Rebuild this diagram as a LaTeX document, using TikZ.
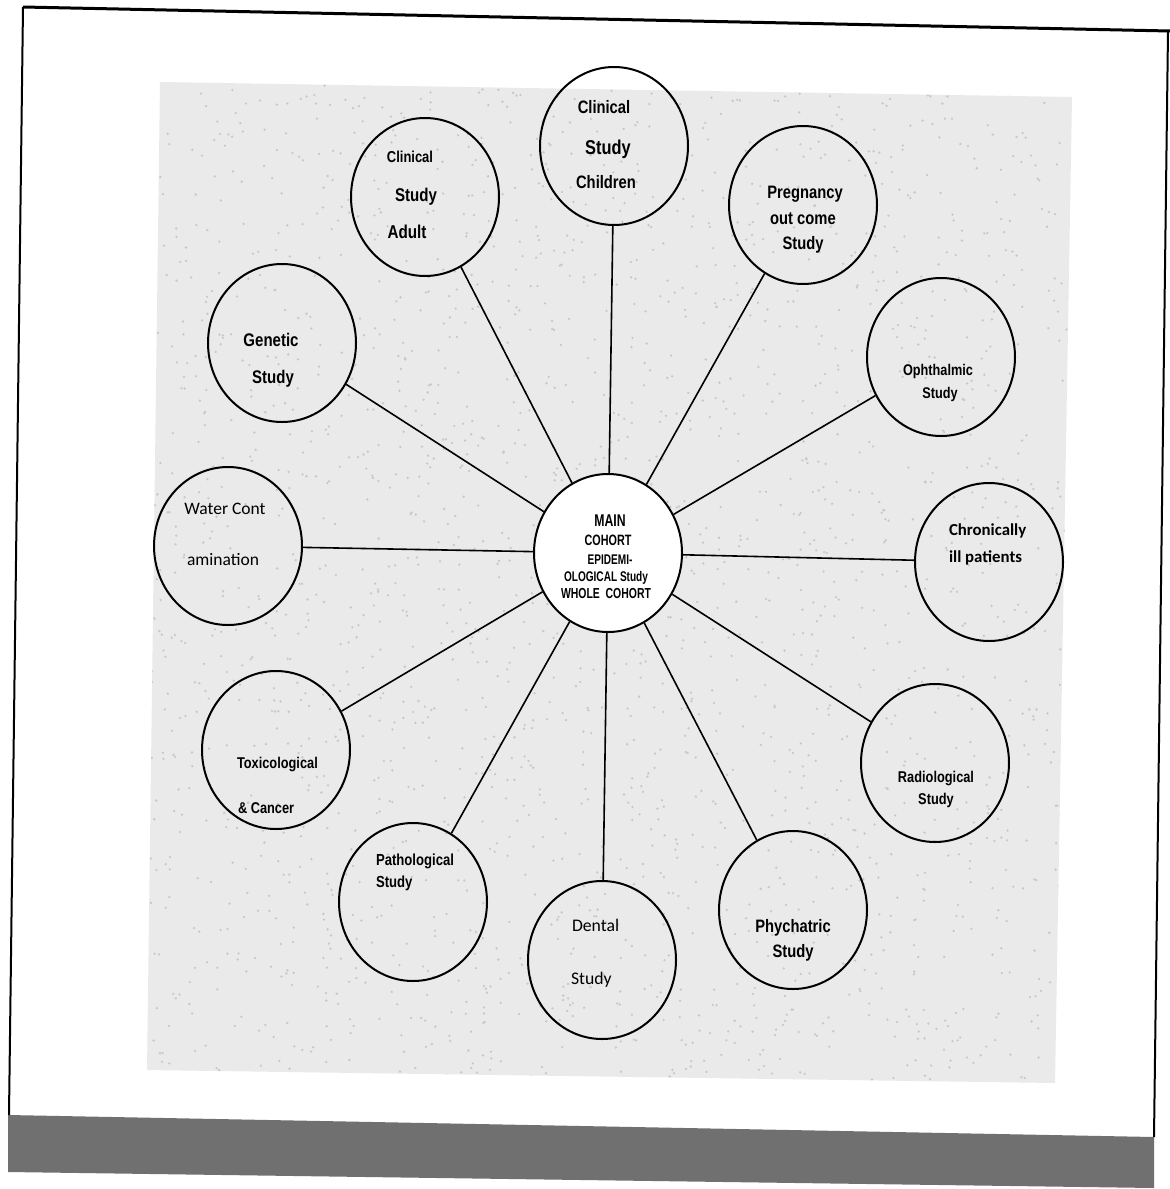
\documentclass[tikz,border=0pt]{standalone}
\usepackage{fontspec}
\usetikzlibrary{shapes.geometric}
\newfontfamily\arnfont[FakeStretch=0.82]{Liberation Sans}
\newfontfamily\arcfont[FakeStretch=0.72]{Liberation Sans}
\newfontfamily\calfont{Carlito}
\definecolor{bggray}{RGB}{234,234,234}
\definecolor{speck}{RGB}{200,200,200}
\definecolor{bandgray}{RGB}{112,112,112}
\tikzset{
  bubble/.style={ellipse, draw=black, line width=2pt, minimum width=148pt, minimum height=158pt, inner sep=0pt},
  hub/.style={bubble, fill=white},
  conn/.style={draw=black, line width=1.6pt},
  lbl/.style={inner sep=0pt, outer sep=0pt, anchor=base, text=black},
  lbll/.style={lbl, anchor=base west},
}
\newcommand{\arnsz}[1]{\fontsize{#1}{#1}\selectfont\arnfont\bfseries}
\newcommand{\arcsz}[1]{\fontsize{#1}{#1}\selectfont\arcfont\bfseries}
\newcommand{\calsz}[1]{\fontsize{#1}{#1}\selectfont\calfont}
\begin{document}
\begin{tikzpicture}[x=1pt,y=-1pt]
\useasboundingbox (0,0) rectangle (1170,1189);
\fill[white] (0,0) rectangle (1170,1189);
% textured background region
\fill[bggray] (160,82) -- (1072,97) -- (1055,1083) -- (147,1070) -- cycle;
\pgfmathsetseed{7}
\begin{scope}
  \clip (160,82) -- (1072,97) -- (1055,1083) -- (147,1070) -- cycle;
  \foreach \i in {1,...,2200}{
    \pgfmathsetmacro{\px}{150+rnd*920}
    \pgfmathsetmacro{\py}{85+rnd*995}
    \fill[speck] (\px,\py) circle (1.3pt);
  }
\end{scope}
% page frame and bottom band
\fill[bandgray] (8,1115) -- (1154,1137) -- (1154,1188) -- (8,1172) -- cycle;
\draw[line width=2pt] (9,1115) -- (23,7);
\draw[line width=3pt] (23,7) -- (1170,31);
\draw[line width=2pt] (1168,31) -- (1154,1137);

% circles
\node[hub]    (cen) at (608,553) {};
\node[bubble] (chi) at (614,146) {};
\node[bubble] (adu) at (425,197) {};
\node[bubble] (pre) at (803,205) {};
\node[bubble] (gen) at (282,343) {};
\node[bubble] (oph) at (941,357) {};
\node[bubble] (wat) at (228,546) {};
\node[bubble] (chr) at (989,562) {};
\node[bubble] (tox) at (276,750) {};
\node[bubble] (rad) at (935,763) {};
\node[bubble] (pat) at (413,902) {};
\node[bubble] (den) at (602,960) {};
\node[bubble] (psy) at (793,910) {};

% connectors
\foreach \n in {chi,adu,pre,gen,oph,wat,chr,tox,rad,pat,den,psy}
  \draw[conn] (cen) -- (\n);

% centre text
\node[lbl] (c1) at (610,526) {\arcsz{17}MAIN};
\node[lbl] (c2) at (608,545) {\arcsz{15}COHORT};
\node[lbl] (c3) at (610,564) {\arcsz{14}EPIDEMI-};
\node[lbl] (c4) at (606,581) {\arcsz{14}OLOGICAL Study};
\node[lbl] (c5) at (606,598) {\arcsz{14.5}WHOLE\ \ COHORT};

% Clinical Study Children
\node[lbl] (chi1) at (604,113.5) {\arnsz{18}Clinical};
\node[lbl] (chi2) at (608,154) {\arnsz{20}Study};
\node[lbl] (chi3) at (606,188.5) {\arnsz{18}Children};

% Clinical Study Adult
\node[lbl] (adu1) at (410,162.7) {\arnsz{15.8}Clinical};
\node[lbl] (adu2) at (416,201.6) {\arnsz{18.4}Study};
\node[lbl] (adu3) at (407,238.7) {\arnsz{18.6}Adult};

% Genetic Study
\node[lbl] (gen1) at (271,346.6) {\arnsz{18.3}Genetic};
\node[lbl] (gen2) at (273,383.6) {\arnsz{18.3}Study};

% Pregnancy out come Study
\node[lbl] (pre1) at (805,198.5) {\arnsz{18}Pregnancy};
\node[lbl] (pre2) at (803,224.5) {\arnsz{18}out come};
\node[lbl] (pre3) at (803,249.5) {\arnsz{18}Study};

% Ophthalmic Study
\node[lbl] (oph1) at (938,375.6) {\arnsz{15.5}Ophthalmic};
\node[lbl] (oph2) at (940,398.6) {\arnsz{15.5}Study};

% Water Contamination
\node[lbl] (wat1) at (225,514) {\calsz{17.5}Water Cont};
\node[lbl] (wat2) at (223,565) {\calsz{17.5}amination};

% Chronically ill patients
\node[lbll] (chr1) at (949,535.4) {\calsz{16.8}\bfseries Chronically};
\node[lbll] (chr2) at (949,562.4) {\calsz{16.8}\bfseries ill patients};

% Toxicological & Cancer
\node[lbll] (tox1) at (237,768.6) {\arnsz{15.6}Toxicological};
\node[lbll] (tox2) at (238,813.8) {\arnsz{15.6}\& Cancer};

% Radiological Study
\node[lbl] (rad1) at (936,782.6) {\arnsz{15.6}Radiological};
\node[lbl] (rad2) at (936,804.6) {\arnsz{15.6}Study};

% Pathological Study
\node[lbll] (pat1) at (376,865.8) {\arnsz{16}Pathological};
\node[lbll] (pat2) at (376,887.8) {\arnsz{16}Study};

% Dental Study
\node[lbll] (den1) at (572,931.7) {\calsz{17.7}Dental};
\node[lbll] (den2) at (571,984.7) {\calsz{17.7}Study};

% Phychatric Study
\node[lbl] (psy1) at (793,932.5) {\arnsz{18}Phychatric};
\node[lbl] (psy2) at (793,957.5) {\arnsz{18}Study};
\end{tikzpicture}
\end{document}
